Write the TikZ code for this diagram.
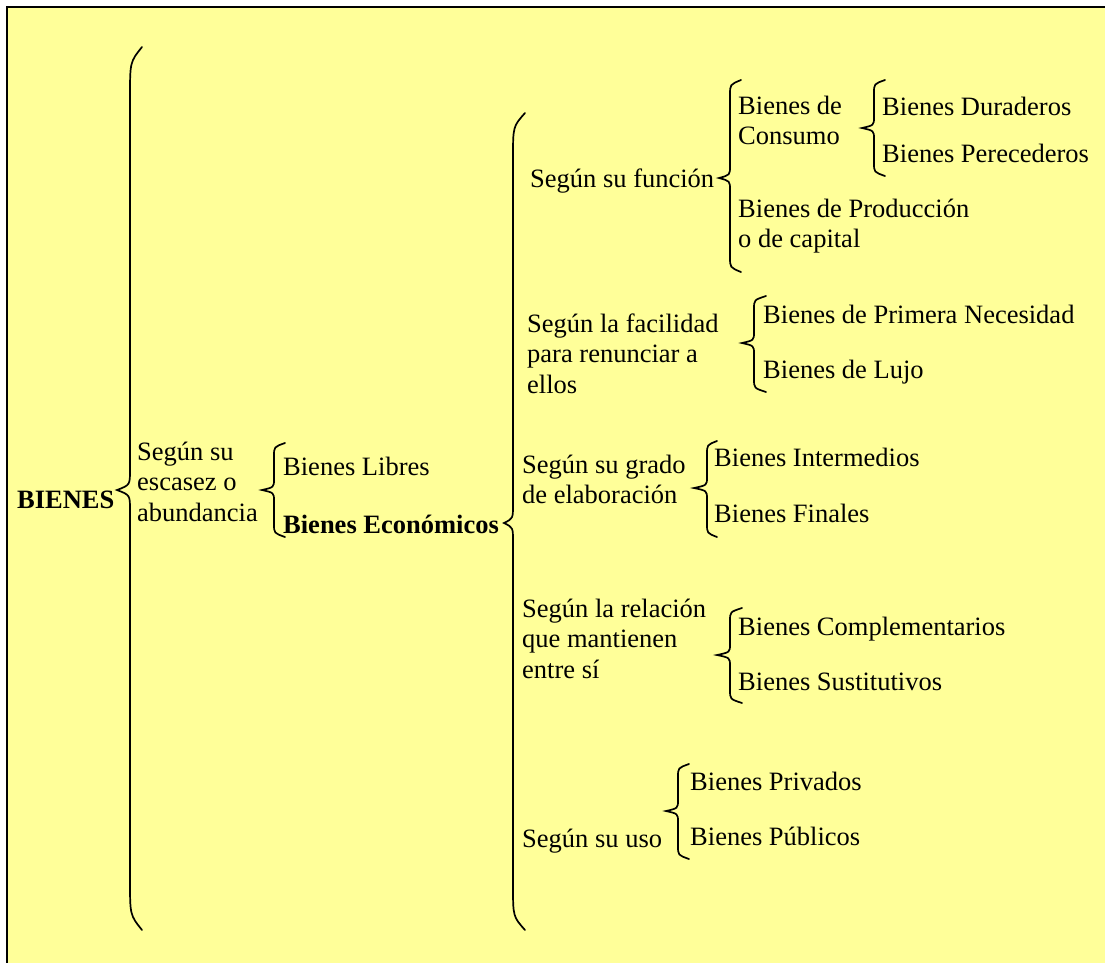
\documentclass[tikz,border=0pt]{standalone}
\usepackage{fontspec}
\setmainfont{Liberation Serif}
\definecolor{paper}{HTML}{FFFF99}
% curly brace: #1 stem x, #2 tip x, #3 point x, #4 top y, #5 point y, #6 bottom y, #7 end hook, #8 point hook
\newcommand\curlybrace[8]{%
  \draw[brc] (#2,#4) .. controls (#1,#4+0.3*#7) .. (#1,#4+#7)
    -- (#1,#5-#8) .. controls (#1,#5-0.25*#8) .. (#3,#5)
    .. controls (#1,#5+0.25*#8) .. (#1,#5+#8)
    -- (#1,#6-#7) .. controls (#1,#6-0.3*#7) .. (#2,#6);}
\newcommand\lines[1]{\begin{tabular}[t]{@{}l@{}}#1\end{tabular}}
\begin{document}
\begin{tikzpicture}[x=1pt,y=-1pt,
  lbl/.style={anchor=base west, inner sep=0pt, font=\fontsize{26.5}{30.5}\selectfont},
  lblb/.style={lbl, font=\fontsize{26.5}{30.5}\selectfont\bfseries},
  brc/.style={line width=1.7pt, line cap=round}]
\useasboundingbox (0,0) rectangle (1105,962);
\fill[white] (0,0) rectangle (1105,962);
\fill[paper] (7,7) rectangle (1110,970);
\draw[line width=1.8pt] (7,975) -- (7,7) -- (1115,7);

% level 0 and 1
\node[lblb] (bienes) at (17,508) {BIENES};
\node[lbl] (escasez) at (137,460) {\lines{Según su\\escasez o\\abundancia}};
\node[lbl] (libres) at (283,475) {Bienes Libres};
\node[lblb] (economicos) at (283,533) {Bienes Económicos};

% criteria for economic goods
\node[lbl] (funcion) at (530,187) {Según su función};
\node[lbl] (facilidad) at (527,332) {\lines{Según la facilidad\\para renunciar a\\ellos}};
\node[lbl] (grado) at (522,473) {\lines{Según su grado\\de elaboración}};
\node[lbl] (relacion) at (522,617) {\lines{Según la relación\\que mantienen\\entre sí}};
\node[lbl] (uso) at (522,847) {Según su uso};

% leaves
\node[lbl] (consumo) at (738,114) {\lines{Bienes de\\Consumo}};
\node[lbl] (duraderos) at (882,115) {Bienes Duraderos};
\node[lbl] (perecederos) at (882,162) {Bienes Perecederos};
\node[lbl] (produccion) at (738,217) {\lines{Bienes de Producción\\o de capital}};
\node[lbl] (necesidad) at (763,323) {Bienes de Primera Necesidad};
\node[lbl] (lujo) at (763,378) {Bienes de Lujo};
\node[lbl] (intermedios) at (714,466) {Bienes Intermedios};
\node[lbl] (finales) at (714,522) {Bienes Finales};
\node[lbl] (complementarios) at (738,635) {Bienes Complementarios};
\node[lbl] (sustitutivos) at (738,690) {Bienes Sustitutivos};
\node[lbl] (privados) at (690,790) {Bienes Privados};
\node[lbl] (publicos) at (690,845) {Bienes Públicos};

% braces
\curlybrace{130}{142}{117}{47}{490}{930}{50}{20}
\curlybrace{274}{285}{262}{443}{490}{537}{13}{11}
\curlybrace{513}{525}{504}{113}{523}{930}{45}{18}
\curlybrace{730}{741}{719}{80}{178}{272}{15}{12}
\curlybrace{874}{885}{862}{80}{128}{176}{13}{11}
\curlybrace{754}{766}{742}{296}{343}{392}{13}{11}
\curlybrace{707}{717}{694}{441}{488}{537}{13}{11}
\curlybrace{730}{742}{717}{608}{655}{703}{13}{11}
\curlybrace{678}{689}{666}{764}{811}{859}{13}{11}
\end{tikzpicture}
\end{document}
